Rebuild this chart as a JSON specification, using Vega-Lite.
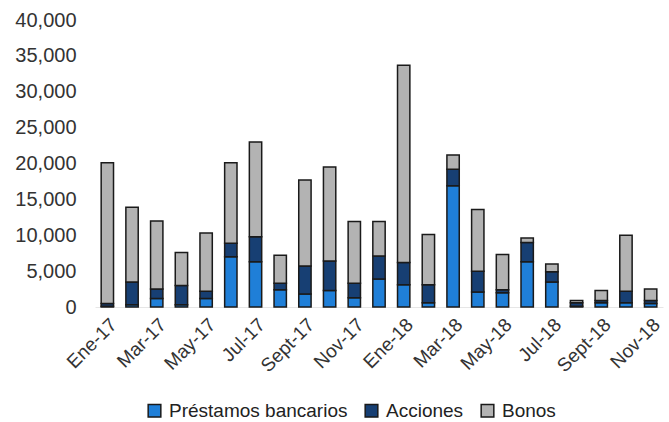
{
  "$schema": "https://vega.github.io/schema/vega-lite/v6.json",
  "width": 568,
  "height": 287,
  "autosize": {"type": "none"},
  "padding": {"left": 95, "top": 20, "right": 6, "bottom": 115},
  "background": "white",
  "config": {
    "view": {"stroke": null},
    "font": "Liberation Sans"
  },
  "data": {
    "values": [
      {"mes": "Ene-17", "tipo": "Préstamos bancarios", "orden": 1, "valor": 100},
      {"mes": "Ene-17", "tipo": "Acciones", "orden": 2, "valor": 400},
      {"mes": "Ene-17", "tipo": "Bonos", "orden": 3, "valor": 19600},
      {"mes": "Feb-17", "tipo": "Préstamos bancarios", "orden": 1, "valor": 300},
      {"mes": "Feb-17", "tipo": "Acciones", "orden": 2, "valor": 3200},
      {"mes": "Feb-17", "tipo": "Bonos", "orden": 3, "valor": 10400},
      {"mes": "Mar-17", "tipo": "Préstamos bancarios", "orden": 1, "valor": 1200},
      {"mes": "Mar-17", "tipo": "Acciones", "orden": 2, "valor": 1300},
      {"mes": "Mar-17", "tipo": "Bonos", "orden": 3, "valor": 9500},
      {"mes": "Abr-17", "tipo": "Préstamos bancarios", "orden": 1, "valor": 300},
      {"mes": "Abr-17", "tipo": "Acciones", "orden": 2, "valor": 2700},
      {"mes": "Abr-17", "tipo": "Bonos", "orden": 3, "valor": 4600},
      {"mes": "May-17", "tipo": "Préstamos bancarios", "orden": 1, "valor": 1200},
      {"mes": "May-17", "tipo": "Acciones", "orden": 2, "valor": 1000},
      {"mes": "May-17", "tipo": "Bonos", "orden": 3, "valor": 8100},
      {"mes": "Jun-17", "tipo": "Préstamos bancarios", "orden": 1, "valor": 7000},
      {"mes": "Jun-17", "tipo": "Acciones", "orden": 2, "valor": 1900},
      {"mes": "Jun-17", "tipo": "Bonos", "orden": 3, "valor": 11200},
      {"mes": "Jul-17", "tipo": "Préstamos bancarios", "orden": 1, "valor": 6300},
      {"mes": "Jul-17", "tipo": "Acciones", "orden": 2, "valor": 3500},
      {"mes": "Jul-17", "tipo": "Bonos", "orden": 3, "valor": 13200},
      {"mes": "Ago-17", "tipo": "Préstamos bancarios", "orden": 1, "valor": 2400},
      {"mes": "Ago-17", "tipo": "Acciones", "orden": 2, "valor": 900},
      {"mes": "Ago-17", "tipo": "Bonos", "orden": 3, "valor": 3900},
      {"mes": "Sept-17", "tipo": "Préstamos bancarios", "orden": 1, "valor": 1800},
      {"mes": "Sept-17", "tipo": "Acciones", "orden": 2, "valor": 3900},
      {"mes": "Sept-17", "tipo": "Bonos", "orden": 3, "valor": 12000},
      {"mes": "Oct-17", "tipo": "Préstamos bancarios", "orden": 1, "valor": 2300},
      {"mes": "Oct-17", "tipo": "Acciones", "orden": 2, "valor": 4100},
      {"mes": "Oct-17", "tipo": "Bonos", "orden": 3, "valor": 13100},
      {"mes": "Nov-17", "tipo": "Préstamos bancarios", "orden": 1, "valor": 1300},
      {"mes": "Nov-17", "tipo": "Acciones", "orden": 2, "valor": 2000},
      {"mes": "Nov-17", "tipo": "Bonos", "orden": 3, "valor": 8600},
      {"mes": "Dic-17", "tipo": "Préstamos bancarios", "orden": 1, "valor": 3900},
      {"mes": "Dic-17", "tipo": "Acciones", "orden": 2, "valor": 3200},
      {"mes": "Dic-17", "tipo": "Bonos", "orden": 3, "valor": 4800},
      {"mes": "Ene-18", "tipo": "Préstamos bancarios", "orden": 1, "valor": 3100},
      {"mes": "Ene-18", "tipo": "Acciones", "orden": 2, "valor": 3100},
      {"mes": "Ene-18", "tipo": "Bonos", "orden": 3, "valor": 27500},
      {"mes": "Feb-18", "tipo": "Préstamos bancarios", "orden": 1, "valor": 600},
      {"mes": "Feb-18", "tipo": "Acciones", "orden": 2, "valor": 2500},
      {"mes": "Feb-18", "tipo": "Bonos", "orden": 3, "valor": 7000},
      {"mes": "Mar-18", "tipo": "Préstamos bancarios", "orden": 1, "valor": 16900},
      {"mes": "Mar-18", "tipo": "Acciones", "orden": 2, "valor": 2300},
      {"mes": "Mar-18", "tipo": "Bonos", "orden": 3, "valor": 2000},
      {"mes": "Abr-18", "tipo": "Préstamos bancarios", "orden": 1, "valor": 2100},
      {"mes": "Abr-18", "tipo": "Acciones", "orden": 2, "valor": 2900},
      {"mes": "Abr-18", "tipo": "Bonos", "orden": 3, "valor": 8600},
      {"mes": "May-18", "tipo": "Préstamos bancarios", "orden": 1, "valor": 2000},
      {"mes": "May-18", "tipo": "Acciones", "orden": 2, "valor": 400},
      {"mes": "May-18", "tipo": "Bonos", "orden": 3, "valor": 4900},
      {"mes": "Jun-18", "tipo": "Préstamos bancarios", "orden": 1, "valor": 6300},
      {"mes": "Jun-18", "tipo": "Acciones", "orden": 2, "valor": 2700},
      {"mes": "Jun-18", "tipo": "Bonos", "orden": 3, "valor": 600},
      {"mes": "Jul-18", "tipo": "Préstamos bancarios", "orden": 1, "valor": 3500},
      {"mes": "Jul-18", "tipo": "Acciones", "orden": 2, "valor": 1400},
      {"mes": "Jul-18", "tipo": "Bonos", "orden": 3, "valor": 1100},
      {"mes": "Ago-18", "tipo": "Préstamos bancarios", "orden": 1, "valor": 100},
      {"mes": "Ago-18", "tipo": "Acciones", "orden": 2, "valor": 500},
      {"mes": "Ago-18", "tipo": "Bonos", "orden": 3, "valor": 300},
      {"mes": "Sept-18", "tipo": "Préstamos bancarios", "orden": 1, "valor": 600},
      {"mes": "Sept-18", "tipo": "Acciones", "orden": 2, "valor": 300},
      {"mes": "Sept-18", "tipo": "Bonos", "orden": 3, "valor": 1400},
      {"mes": "Oct-18", "tipo": "Préstamos bancarios", "orden": 1, "valor": 600},
      {"mes": "Oct-18", "tipo": "Acciones", "orden": 2, "valor": 1600},
      {"mes": "Oct-18", "tipo": "Bonos", "orden": 3, "valor": 7800},
      {"mes": "Nov-18", "tipo": "Préstamos bancarios", "orden": 1, "valor": 500},
      {"mes": "Nov-18", "tipo": "Acciones", "orden": 2, "valor": 400},
      {"mes": "Nov-18", "tipo": "Bonos", "orden": 3, "valor": 1600}
    ]
  },
  "mark": {"type": "bar", "stroke": "#1a1a1a", "strokeWidth": 1.5},
  "encoding": {
    "x": {
      "field": "mes",
      "type": "ordinal",
      "sort": null,
      "scale": {"paddingInner": 0.5, "paddingOuter": 0.25},
      "axis": {
        "title": null,
        "values": ["Ene-17", "Mar-17", "May-17", "Jul-17", "Sept-17", "Nov-17", "Ene-18", "Mar-18", "May-18", "Jul-18", "Sept-18", "Nov-18"],
        "labelAngle": -45,
        "labelFontSize": 19,
        "labelColor": "#333333",
        "labelPadding": 8,
        "ticks": false,
        "domain": true,
        "domainColor": "#e6e6e6"
      }
    },
    "y": {
      "field": "valor",
      "type": "quantitative",
      "stack": "zero",
      "scale": {"domain": [0, 40000]},
      "axis": {
        "title": null,
        "values": [0, 5000, 10000, 15000, 20000, 25000, 30000, 35000, 40000],
        "format": ",d",
        "labelFontSize": 20,
        "labelColor": "#333333",
        "labelPadding": 19,
        "ticks": false,
        "domain": false,
        "grid": false
      }
    },
    "color": {
      "field": "tipo",
      "type": "nominal",
      "scale": {
        "domain": ["Préstamos bancarios", "Acciones", "Bonos"],
        "range": ["#1f7fd8", "#173f73", "#b3b3b3"]
      },
      "legend": {
        "title": null,
        "orient": "none",
        "legendX": 50,
        "legendY": 381,
        "direction": "horizontal",
        "symbolType": "square",
        "symbolSize": 160,
        "symbolStrokeColor": "#1a1a1a",
        "symbolStrokeWidth": 1.5,
        "labelFontSize": 19,
        "labelColor": "#222222",
        "labelOffset": 5,
        "labelLimit": 400,
        "columnPadding": 14
      }
    },
    "order": {"field": "orden", "type": "quantitative"}
  }
}
